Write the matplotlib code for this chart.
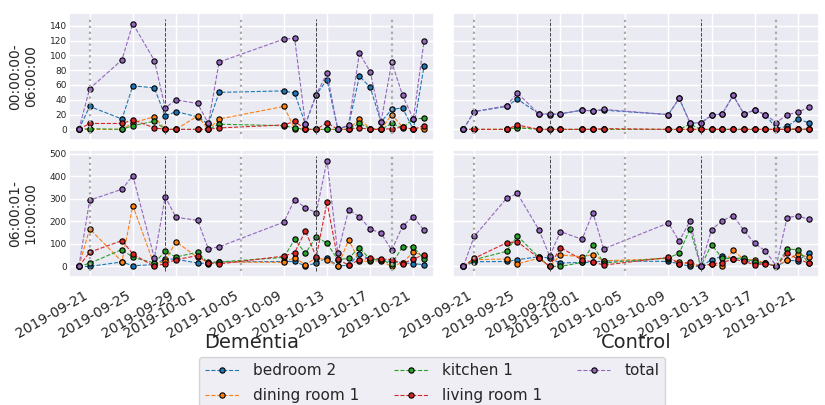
import matplotlib
matplotlib.use("Agg")
import matplotlib.pyplot as plt
import matplotlib.dates as mdates
import matplotlib.ticker as mticker
import pandas as pd
import seaborn as sns

sns.set_theme(style="darkgrid")
plt.rcParams['font.family'] = ['DejaVu Sans']

dates = ['2019-09-20', '2019-09-21', '2019-09-24', '2019-09-25', '2019-09-27', '2019-09-28',
         '2019-09-29', '2019-10-01', '2019-10-02', '2019-10-03', '2019-10-09', '2019-10-10',
         '2019-10-11', '2019-10-12', '2019-10-13', '2019-10-14', '2019-10-15', '2019-10-16',
         '2019-10-17', '2019-10-18', '2019-10-19', '2019-10-20', '2019-10-21', '2019-10-22']

series_names = ['bedroom 2', 'dining room 1', 'kitchen 1', 'living room 1', 'total']
series_colors = ['tab:blue', 'tab:orange', 'tab:green', 'tab:red', 'tab:purple']
row_labels = ['00:00:00-\n06:00:00', '06:00:01-\n10:00:00']
col_labels = ['Dementia', 'Control']
week_lines = ['2019-09-21', '2019-09-28', '2019-10-05', '2019-10-12', '2019-10-19']
row_tick_steps = [20, 100]

# Dementia, 00:00:00-06:00:00
dem_night_bedroom = [0, 31, 14, 59, 56, 18, 24, 17, 7, 50, 52, 49, 7, 47, 67, 0, 5, 72, 57, 10, 27, 29, 0, 86]
dem_night_dining = [0, 0, 0, 9, 17, 0, 0, 18, 0, 14, 31, 1, 0, 0, 0, 0, 0, 14, 1, 0, 20, 3, 0, 1]
dem_night_kitchen = [0, 1, 0, 5, 11, 0, 0, 0, 0, 7, 5, 2, 0, 0, 0, 0, 0, 8, 1, 0, 8, 2, 14, 15]
dem_night_living = [0, 8, 8, 13, 2, 0, 0, 0, 0, 2, 6, 11, 0, 0, 9, 0, 0, 2, 0, 0, 1, 3, 0, 5]
dem_night_total = [0, 55, 94, 143, 93, 29, 40, 35, 8, 91, 122, 123, 7, 47, 76, 0, 6, 103, 78, 10, 91, 46, 14, 120]

# Dementia, 06:00:01-10:00:00
dem_morn_bedroom = [0, 0, 20, 3, 8, 34, 32, 15, 13, 20, 22, 22, 2, 15, 38, 2, 5, 57, 30, 30, 20, 17, 12, 8]
dem_morn_dining = [0, 167, 21, 270, 5, 25, 110, 40, 18, 20, 18, 39, 8, 38, 29, 0, 118, 25, 22, 25, 0, 17, 63, 48]
dem_morn_kitchen = [0, 14, 75, 40, 15, 67, 42, 63, 15, 20, 40, 120, 58, 132, 103, 30, 36, 84, 30, 30, 11, 87, 87, 31]
dem_morn_living = [0, 63, 115, 55, 0, 13, 30, 48, 15, 11, 46, 61, 158, 42, 285, 31, 6, 29, 38, 33, 30, 13, 33, 52]
dem_morn_total = [0, 294, 343, 403, 37, 309, 218, 205, 78, 87, 197, 297, 260, 239, 470, 58, 251, 221, 166, 148, 72, 179, 221, 160]

# Control, 00:00:00-06:00:00
con_night_bedroom = [0, 24, 31, 41, 21, 20, 21, 26, 25, 26, 20, 42, 9, 8, 19, 21, 46, 21, 26, 20, 1, 4, 14, 9]
con_night_dining = [0, 0, 0, 3, 0, 0, 0, 0, 0, 0, 0, 0, 0, 0, 0, 0, 0, 0, 0, 0, 0, 0, 0, 0]
con_night_kitchen = [0, 0, 0, 2, 0, 0, 0, 0, 0, 0, 0, 0, 7, 0, 0, 0, 0, 0, 0, 0, 0, 0, 0, 0]
con_night_living = [0, 0, 0, 6, 0, 0, 0, 0, 0, 1, 0, 0, 0, 0, 0, 0, 0, 0, 0, 0, 0, 0, 1, 0]
con_night_total = [0, 24, 32, 49, 21, 21, 21, 26, 25, 27, 20, 42, 9, 9, 19, 21, 46, 21, 26, 20, 9, 20, 23, 30]

# Control, 06:00:01-10:00:00
con_morn_bedroom = [0, 21, 22, 30, 43, 37, 15, 18, 18, 25, 22, 12, 0, 0, 30, 45, 35, 30, 15, 15, 0, 27, 25, 60]
con_morn_dining = [0, 30, 33, 11, 37, 0, 51, 43, 52, 25, 35, 20, 10, 0, 10, 0, 73, 30, 30, 15, 0, 27, 57, 40]
con_morn_kitchen = [0, 30, 67, 136, 40, 0, 0, 18, 96, 15, 38, 58, 166, 0, 97, 36, 35, 38, 20, 15, 0, 76, 75, 15]
con_morn_living = [0, 36, 105, 110, 37, 0, 84, 29, 20, 6, 40, 13, 18, 0, 12, 17, 33, 22, 8, 12, 0, 60, 33, 15]
con_morn_total = [0, 133, 302, 324, 163, 45, 155, 120, 239, 78, 193, 112, 201, 2, 163, 203, 226, 160, 102, 69, 2, 217, 224, 210]

panels = [
    [[dem_night_bedroom, dem_night_dining, dem_night_kitchen, dem_night_living, dem_night_total],
     [con_night_bedroom, con_night_dining, con_night_kitchen, con_night_living, con_night_total]],
    [[dem_morn_bedroom, dem_morn_dining, dem_morn_kitchen, dem_morn_living, dem_morn_total],
     [con_morn_bedroom, con_morn_dining, con_morn_kitchen, con_morn_living, con_morn_total]],
]

x = pd.to_datetime(dates)

fig, axes = plt.subplots(2, 2, figsize=(8.25, 4.05), dpi=100, sharex=True, sharey='row')
fig.subplots_adjust(left=0.0836, right=0.9927, top=0.968, bottom=0.316, wspace=0.052, hspace=0.079)

for r in range(2):
    for c in range(2):
        ax = axes[r, c]
        for vals, name, col in zip(panels[r][c], series_names, series_colors):
            ax.plot(x, vals, linestyle='--', linewidth=0.8, color=col, marker='o',
                    markersize=3.8, markeredgecolor='black', markeredgewidth=0.8,
                    markerfacecolor=col, label=name)
        for i, d in enumerate(week_lines):
            if i % 2 == 0:
                ax.axvline(pd.Timestamp(d), ymin=0.05, ymax=0.95, color='darkgrey',
                           linestyle=':', linewidth=1.6)
            else:
                ax.axvline(pd.Timestamp(d), ymin=0.05, ymax=0.95, color='#444444',
                           linestyle='--', linewidth=0.7)
        ax.margins(y=0.1)
        ax.yaxis.set_major_locator(mticker.MultipleLocator(row_tick_steps[r]))
        ax.tick_params(axis='y', labelsize=6.5, length=0, pad=1.5)
        ax.tick_params(axis='x', labelsize=10, pad=2)
    axes[r, 0].set_ylabel(row_labels[r], fontsize=10)
    axes[r, 0].yaxis.set_label_coords(-0.085, 0.5)

for c in range(2):
    axes[1, c].set_xlabel(col_labels[c], fontsize=14)
    axes[1, c].xaxis.set_label_coords(0.5, -0.44)

ax = axes[1, 0]
ax.set_xlim(pd.Timestamp('2019-09-19 02:00'), pd.Timestamp('2019-10-22 23:00'))
ax.xaxis.set_major_locator(mdates.DayLocator(bymonthday=[1, 5, 9, 13, 17, 21, 25, 29]))
ax.xaxis.set_major_formatter(mdates.DateFormatter('%Y-%m-%d'))
for a in axes[1, :]:
    for lbl in a.get_xticklabels():
        lbl.set_rotation(30)
        lbl.set_ha('right')

handles, labels = axes[0, 0].get_legend_handles_labels()
fig.legend(handles, labels, loc='upper center', bbox_to_anchor=(0.524, 0.137), ncol=3,
           fontsize=11, frameon=True, handlelength=2.2, handletextpad=0.9,
           columnspacing=2.3, labelspacing=0.65)

fig.savefig('out.png', dpi=100)
